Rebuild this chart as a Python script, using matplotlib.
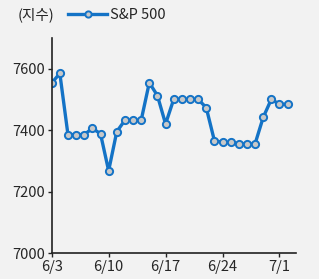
import matplotlib
matplotlib.use("Agg")
import matplotlib.pyplot as plt
import numpy as np

plt.rcParams['font.family'] = ['Noto Sans CJK KR', 'DejaVu Sans']

values = [7553, 7584, 7385, 7385, 7385, 7406, 7388, 7268, 7395, 7432,
          7432, 7432, 7554, 7512, 7420, 7500, 7500, 7500, 7500, 7473,
          7366, 7360, 7360, 7355, 7355, 7355, 7441, 7500, 7484, 7484]
tick_pos = [0, 7, 14, 21, 28]
tick_labels = ['6/3', '6/10', '6/17', '6/24', '7/1']
series_name = 'S&P 500'
unit_label = '(지수)'

bg = '#f2f2f2'
blue = '#1473c6'
txt = '#262626'

fig = plt.figure(figsize=(3.19, 2.79), dpi=100, facecolor=bg)
ax = fig.add_axes([51.7/319, (279-253.3)/279, (295.7-51.7)/319, (253.3-37.7)/279])
ax.set_facecolor(bg)

x = np.arange(len(values))
line, = ax.plot(x, values, color=blue, lw=2.4, marker='o', markersize=5.2,
                markerfacecolor='#c8c8c8', markeredgecolor=blue, markeredgewidth=1.4,
                label=series_name)

ax.set_xlim(0, 30)
ax.set_ylim(7000, 7700)
ax.set_yticks([7000, 7200, 7400, 7600])
ax.set_xticks(tick_pos)
ax.set_xticklabels(tick_labels)
for s in ['top', 'right']:
    ax.spines[s].set_visible(False)
for s in ['left', 'bottom']:
    ax.spines[s].set_linewidth(1.2)
    ax.spines[s].set_color('#222222')
ax.tick_params(axis='both', length=3, width=1, color='#222222', labelsize=10.5,
               labelcolor=txt, pad=2)

fig.text(18/319, 1-15/279, unit_label, fontsize=10.5, color=txt, va='center', ha='left')
leg = fig.legend(handles=[line], loc='center left', bbox_to_anchor=(68/319, 1-15/279),
                 frameon=False, fontsize=10.5, handlelength=2.7, handletextpad=0.15,
                 borderaxespad=0, borderpad=0)
leg.get_lines()[0].set_markersize(4.5)
for t in leg.get_texts():
    t.set_color(txt)

fig.savefig('out.png', dpi=100, facecolor=bg)
